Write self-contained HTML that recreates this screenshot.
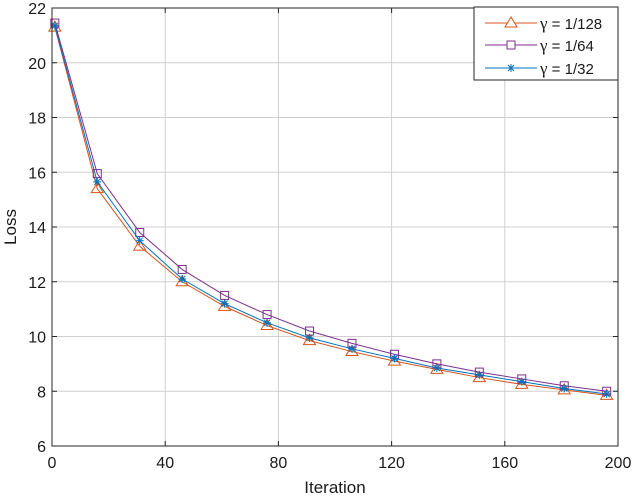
<!DOCTYPE html>
<html><head><meta charset="utf-8"><style>
body{margin:0;background:#fff;width:632px;height:496px;overflow:hidden}
svg text{font-family:"Liberation Sans",Arial,sans-serif;fill:#1a1a1a}
</style></head><body>
<svg id="chart" width="632" height="496" xmlns="http://www.w3.org/2000/svg">
<g id="grid"></g>
<g id="series"></g>
<rect x="52" y="8" width="566" height="438" fill="none" stroke="#262626" stroke-width="1"/>
<g id="ticks"></g>
<text x="335" y="493" font-size="17" text-anchor="middle">Iteration</text>
<text x="0" y="0" font-size="17" text-anchor="middle" transform="translate(16,227) rotate(-90)">Loss</text>
<g>
<rect x="474" y="7" width="144" height="73" fill="#fff" stroke="#262626" stroke-width="1"/>
<g>
<line x1="485" y1="23" x2="537" y2="23" stroke="#D95319"/>
<polygon points="511,17 517,27 505,27" fill="#fff" stroke="#D95319"/>
<text x="540" y="29" font-size="15"><tspan font-family="Liberation Serif" font-size="17">γ</tspan> = 1/128</text></g>
<g>
<line x1="485" y1="45" x2="537" y2="45" stroke="#7E2F8E"/>
<rect x="507" y="41" width="8" height="8" fill="#fff" stroke="#7E2F8E"/>
<text x="540" y="51" font-size="15"><tspan font-family="Liberation Serif" font-size="17">γ</tspan> = 1/64</text></g>
<g>
<line x1="485" y1="68" x2="537" y2="68" stroke="#0072BD"/>
<path d="M507,68h8M511,64v8M508,65l6,6M514,65l-6,6" stroke="#0072BD"/>
<text x="540" y="74" font-size="15"><tspan font-family="Liberation Serif" font-size="17">γ</tspan> = 1/32</text></g>
</g>
</svg>
<script>
const iterations=[1,16,31,46,61,76,91,106,121,136,151,166,181,196];
const lossG128=[21.3,15.4,13.3,12.0,11.1,10.4,9.85,9.45,9.1,8.8,8.5,8.25,8.05,7.85];
const lossG64=[21.45,15.95,13.8,12.45,11.5,10.8,10.2,9.75,9.35,9.0,8.7,8.45,8.2,8.0];
const lossG32=[21.35,15.65,13.5,12.1,11.2,10.5,9.95,9.55,9.2,8.85,8.6,8.35,8.1,7.9];
const xTicks=[0,40,80,120,160,200];
const yTicks=[6,8,10,12,14,16,18,20,22];
const NS="http://www.w3.org/2000/svg";
const X0=52,X1=618,Y0=446,Y1=8;
const xs=v=>X0+(v-0)/(200-0)*(X1-X0);
const ys=v=>Y0-(v-6)/(22-6)*(Y0-Y1);
function mk(t,a,p){const e=document.createElementNS(NS,t);for(const k in a)e.setAttribute(k,a[k]);p.appendChild(e);return e;}
const grid=document.getElementById('grid'),ticks=document.getElementById('ticks'),ser=document.getElementById('series');
xTicks.forEach(v=>{
 const g=mk('line',{x1:xs(v),x2:xs(v),y1:Y1,y2:Y0,stroke:'#d0d0d0'},grid);
 
 mk('line',{x1:xs(v),x2:xs(v),y1:Y0,y2:Y0-5,stroke:'#262626'},ticks);
 mk('line',{x1:xs(v),x2:xs(v),y1:Y1,y2:Y1+5,stroke:'#262626'},ticks);
 const t=mk('text',{x:xs(v),y:Y0+22,'font-size':16,'text-anchor':'middle'},ticks);t.textContent=v;
 
});
yTicks.forEach(v=>{
 const g=mk('line',{x1:X0,x2:X1,y1:ys(v),y2:ys(v),stroke:'#d0d0d0'},grid);
 
 mk('line',{x1:X0,x2:X0+5,y1:ys(v),y2:ys(v),stroke:'#262626'},ticks);
 mk('line',{x1:X1,x2:X1-5,y1:ys(v),y2:ys(v),stroke:'#262626'},ticks);
 const t=mk('text',{x:X0-6,y:ys(v)+6,'font-size':16,'text-anchor':'end'},ticks);t.textContent=v;
 
});
function draw(vals,color,marker,name){
 const g=mk('g',{},ser);
 
 mk('polyline',{points:iterations.map((x,i)=>xs(x)+','+ys(vals[i])).join(' '),fill:'none',stroke:color,'stroke-width':1},g);
 iterations.forEach((x,i)=>{const cx=xs(x),cy=ys(vals[i]);let m;
  if(marker==='tri')m=mk('polygon',{points:`${cx},${cy-6} ${cx+6},${cy+4} ${cx-6},${cy+4}`,fill:'none',stroke:color},g);
  else if(marker==='sq')m=mk('rect',{x:cx-4,y:cy-4,width:8,height:8,fill:'none',stroke:color},g);
  else m=mk('path',{d:`M${cx-4},${cy}h8M${cx},${cy-4}v8M${cx-3},${cy-3}l6,6M${cx+3},${cy-3}l-6,6`,stroke:color},g);
  });
}
draw(lossG128,'#D95319','tri','series-gamma-1-128');
draw(lossG64,'#7E2F8E','sq','series-gamma-1-64');
draw(lossG32,'#0072BD','star','series-gamma-1-32');
</script>
</body></html>
